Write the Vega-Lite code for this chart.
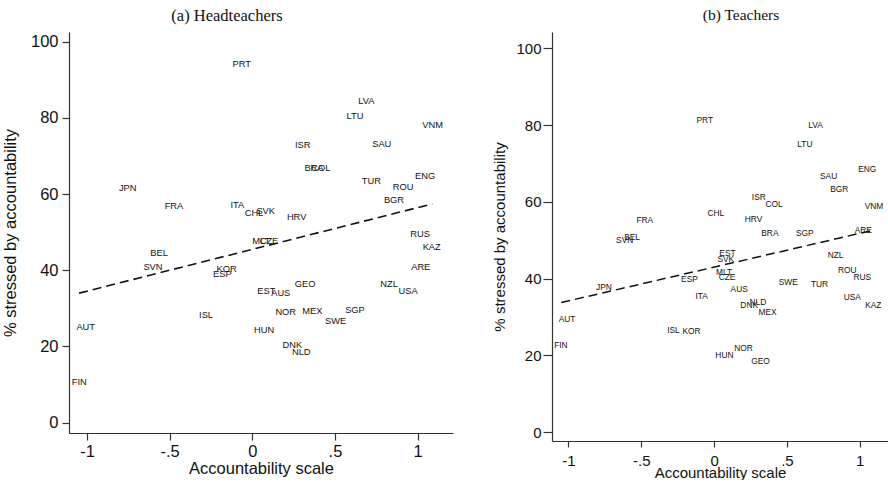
{
  "$schema": "https://vega.github.io/schema/vega-lite/v6.json",
  "background": "white",
  "padding": {"left": 2, "top": 7, "right": 0, "bottom": 0},
  "spacing": 39,
  "config": {
    "view": {"stroke": null},
    "axis": {"grid": false, "domainColor": "#333", "tickColor": "#333", "labelColor": "#111", "titleColor": "#111", "labelFont": "Liberation Sans", "titleFont": "Liberation Sans", "titleFontWeight": "normal", "domainWidth": 1.2, "tickWidth": 1.2},
    "title": {"font": "Liberation Serif", "fontWeight": "normal", "color": "#111"}
  },
  "datasets": {
    "head": [
      {"code": "PRT", "x": -0.064, "y": 94.0},
      {"code": "LVA", "x": 0.69, "y": 84.5},
      {"code": "LTU", "x": 0.621, "y": 80.4},
      {"code": "VNM", "x": 1.091, "y": 78.2},
      {"code": "ISR", "x": 0.305, "y": 72.8},
      {"code": "SAU", "x": 0.783, "y": 73.1},
      {"code": "BRA", "x": 0.373, "y": 66.8},
      {"code": "COL", "x": 0.414, "y": 66.8},
      {"code": "TUR", "x": 0.72, "y": 63.5},
      {"code": "ENG", "x": 1.045, "y": 64.6},
      {"code": "ROU", "x": 0.912, "y": 61.9},
      {"code": "BGR", "x": 0.857, "y": 58.3},
      {"code": "JPN", "x": -0.754, "y": 61.5},
      {"code": "FRA", "x": -0.474, "y": 56.8},
      {"code": "ITA", "x": -0.091, "y": 57.0},
      {"code": "CHL", "x": 0.01, "y": 55.0},
      {"code": "SVK", "x": 0.081, "y": 55.6},
      {"code": "HRV", "x": 0.268, "y": 53.9},
      {"code": "MLT", "x": 0.054, "y": 47.8},
      {"code": "CZE", "x": 0.101, "y": 47.8},
      {"code": "RUS", "x": 1.015, "y": 49.6},
      {"code": "KAZ", "x": 1.085, "y": 46.0},
      {"code": "BEL", "x": -0.564, "y": 44.4},
      {"code": "SVN", "x": -0.601, "y": 40.9},
      {"code": "KOR", "x": -0.155, "y": 40.4},
      {"code": "ESP", "x": -0.181, "y": 39.1},
      {"code": "GEO", "x": 0.319, "y": 36.5},
      {"code": "NZL", "x": 0.827, "y": 36.5},
      {"code": "ARE", "x": 1.019, "y": 40.8},
      {"code": "USA", "x": 0.942, "y": 34.5},
      {"code": "EST", "x": 0.085, "y": 34.6},
      {"code": "AUS", "x": 0.172, "y": 33.9},
      {"code": "ISL", "x": -0.28, "y": 28.3},
      {"code": "NOR", "x": 0.202, "y": 29.0},
      {"code": "MEX", "x": 0.363, "y": 29.2},
      {"code": "SGP", "x": 0.621, "y": 29.6},
      {"code": "SWE", "x": 0.504, "y": 26.6},
      {"code": "AUT", "x": -1.008, "y": 25.0},
      {"code": "HUN", "x": 0.071, "y": 24.2},
      {"code": "DNK", "x": 0.242, "y": 20.5},
      {"code": "NLD", "x": 0.296, "y": 18.6},
      {"code": "FIN", "x": -1.047, "y": 10.7}
    ],
    "teach": [
      {"code": "PRT", "x": -0.064, "y": 81.3},
      {"code": "LVA", "x": 0.697, "y": 80.0},
      {"code": "LTU", "x": 0.623, "y": 75.0},
      {"code": "ENG", "x": 1.052, "y": 68.5},
      {"code": "SAU", "x": 0.786, "y": 66.7},
      {"code": "BGR", "x": 0.859, "y": 63.3},
      {"code": "ISR", "x": 0.307, "y": 61.2},
      {"code": "COL", "x": 0.412, "y": 59.5},
      {"code": "VNM", "x": 1.098, "y": 58.9},
      {"code": "CHL", "x": 0.012, "y": 57.2},
      {"code": "FRA", "x": -0.476, "y": 55.3},
      {"code": "HRV", "x": 0.271, "y": 55.5},
      {"code": "BRA", "x": 0.383, "y": 51.8},
      {"code": "SGP", "x": 0.623, "y": 51.8},
      {"code": "ARE", "x": 1.024, "y": 52.7},
      {"code": "SVN", "x": -0.614, "y": 50.1},
      {"code": "BEL", "x": -0.563, "y": 50.8},
      {"code": "EST", "x": 0.092, "y": 46.6},
      {"code": "NZL", "x": 0.834, "y": 46.1},
      {"code": "SVK", "x": 0.08, "y": 45.1},
      {"code": "MLT", "x": 0.069, "y": 41.6},
      {"code": "CZE", "x": 0.089, "y": 40.4},
      {"code": "ESP", "x": -0.169, "y": 39.8},
      {"code": "JPN", "x": -0.756, "y": 37.7},
      {"code": "ROU", "x": 0.914, "y": 42.2},
      {"code": "RUS", "x": 1.017, "y": 40.4},
      {"code": "SWE", "x": 0.509, "y": 39.2},
      {"code": "TUR", "x": 0.724, "y": 38.7},
      {"code": "AUS", "x": 0.172, "y": 37.2},
      {"code": "ITA", "x": -0.085, "y": 35.5},
      {"code": "USA", "x": 0.949, "y": 35.1},
      {"code": "NLD", "x": 0.3, "y": 33.9},
      {"code": "DNK", "x": 0.241, "y": 33.2},
      {"code": "MEX", "x": 0.367, "y": 31.4},
      {"code": "KAZ", "x": 1.093, "y": 33.0},
      {"code": "AUT", "x": -1.01, "y": 29.5},
      {"code": "ISL", "x": -0.279, "y": 26.5},
      {"code": "KOR", "x": -0.155, "y": 26.2},
      {"code": "FIN", "x": -1.052, "y": 22.7},
      {"code": "NOR", "x": 0.202, "y": 22.0},
      {"code": "HUN", "x": 0.071, "y": 20.1},
      {"code": "GEO", "x": 0.319, "y": 18.6}
    ],
    "headfit": [
      {"x": -1.048, "y": 34.0},
      {"x": 1.089, "y": 57.4}
    ],
    "teachfit": [
      {"x": -1.049, "y": 33.75},
      {"x": 1.082, "y": 52.5}
    ]
  },
  "hconcat": [
    {
      "width": 384,
      "height": 401,
      "title": {"text": "(a)  Headteachers", "fontSize": 16.5, "dx": -34, "offset": 8},
      "layer": [
        {
          "data": {"name": "headfit"},
          "mark": {"type": "line", "strokeDash": [9, 5], "strokeWidth": 1.6, "color": "#111"},
          "encoding": {
            "x": {"field": "x", "type": "quantitative", "scale": {"domain": [-1.109, 1.214], "nice": false, "zero": false}},
            "y": {"field": "y", "type": "quantitative", "scale": {"domain": [-2.7, 102.5], "nice": false, "zero": false}}
          }
        },
        {
          "data": {"name": "head"},
          "mark": {"type": "text", "font": "Liberation Sans", "fontSize": 9.3, "color": "#111", "align": "center", "baseline": "middle"},
          "encoding": {
            "x": {"field": "x", "type": "quantitative", "scale": {"domain": [-1.109, 1.214], "nice": false, "zero": false},
              "axis": {"title": "Accountability scale", "values": [-1, -0.5, 0, 0.5, 1], "labelExpr": "(datum.value < 0 ? '-' : '') + replace(toString(abs(datum.value)), '0.', '.')", "tickSize": 7, "labelFontSize": 16.5, "titleFontSize": 16.5, "labelPadding": 3, "titlePadding": 1}},
            "y": {"field": "y", "type": "quantitative", "scale": {"domain": [-2.7, 102.5], "nice": false, "zero": false},
              "axis": {"title": "% stressed by accountability", "values": [0, 20, 40, 60, 80, 100], "tickSize": 7, "labelFontSize": 16.5, "titleFontSize": 16.5, "labelPadding": 4, "titlePadding": 12}},
            "text": {"field": "code"}
          }
        }
      ]
    },
    {
      "width": 336,
      "height": 409,
      "title": {"text": "(b)  Teachers", "fontSize": 15.5, "dx": 21, "offset": 9},
      "layer": [
        {
          "data": {"name": "teachfit"},
          "mark": {"type": "line", "strokeDash": [9, 5], "strokeWidth": 1.5, "color": "#111"},
          "encoding": {
            "x": {"field": "x", "type": "quantitative", "scale": {"domain": [-1.113, 1.194], "nice": false, "zero": false}},
            "y": {"field": "y", "type": "quantitative", "scale": {"domain": [-2.34, 104.25], "nice": false, "zero": false}}
          }
        },
        {
          "data": {"name": "teach"},
          "mark": {"type": "text", "font": "Liberation Sans", "fontSize": 8.4, "color": "#111", "align": "center", "baseline": "middle"},
          "encoding": {
            "x": {"field": "x", "type": "quantitative", "scale": {"domain": [-1.113, 1.194], "nice": false, "zero": false},
              "axis": {"title": "Accountability scale", "values": [-1, -0.5, 0, 0.5, 1], "labelExpr": "(datum.value < 0 ? '-' : '') + replace(toString(abs(datum.value)), '0.', '.')", "tickSize": 6, "labelFontSize": 15, "titleFontSize": 15, "labelPadding": 6, "titlePadding": -3}},
            "y": {"field": "y", "type": "quantitative", "scale": {"domain": [-2.34, 104.25], "nice": false, "zero": false},
              "axis": {"title": "% stressed by accountability", "values": [0, 20, 40, 60, 80, 100], "tickSize": 9, "labelFontSize": 15, "titleFontSize": 15, "labelPadding": 2, "titlePadding": 8}},
            "text": {"field": "code"}
          }
        }
      ]
    }
  ]
}
